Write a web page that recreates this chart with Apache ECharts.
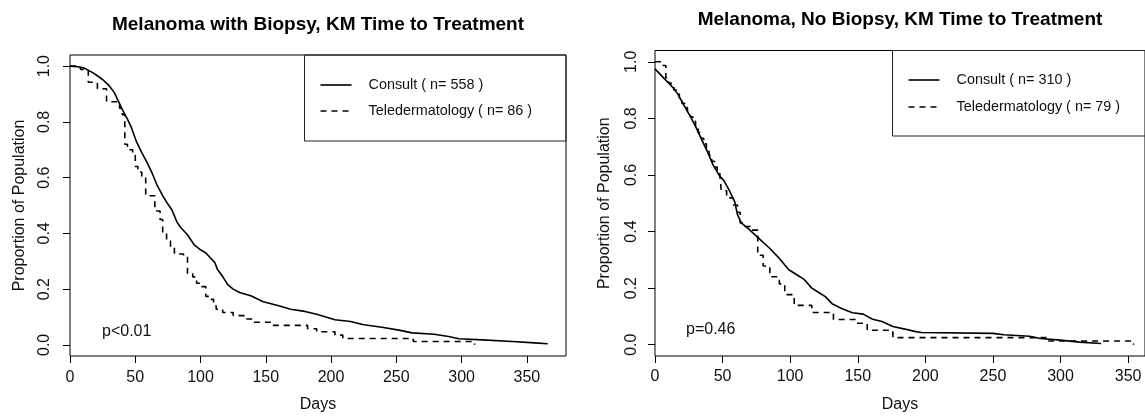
<!DOCTYPE html>
<html>
<head>
<meta charset="utf-8">
<script src="https://cdn.jsdelivr.net/npm/echarts@6/dist/echarts.min.js"></script>
<style>
html,body{margin:0;padding:0;background:#fff;}
#chart{width:1145px;height:418px;}
</style>
</head>
<body>
<div id="chart"></div>
<script>
// ---- data ----
const titles = ['Melanoma with Biopsy, KM Time to Treatment', 'Melanoma, No Biopsy, KM Time to Treatment'];
const xTicks = [0, 50, 100, 150, 200, 250, 300, 350];
const yTicks = [0, 0.2, 0.4, 0.6, 0.8, 1.0];
const xName = 'Days';
const yName = 'Proportion of Population';
const leftLegend = ['Consult ( n= 558 )', 'Teledermatology ( n= 86 )'];
const rightLegend = ['Consult ( n= 310 )', 'Teledermatology ( n= 79 )'];
const pTexts = ['p<0.01', 'p=0.46'];

const leftConsult = [[0,1],[6,0.998],[11,0.993],[18,0.975],[25,0.952],[30,0.93],[34,0.905],[40,0.845],[44,0.81],[47,0.78],[51,0.728],[55,0.69],[59,0.655],[63,0.615],[67,0.57],[71,0.535],[74,0.512],[78,0.485],[82,0.44],[85,0.42],[90,0.395],[95,0.36],[100,0.341],[104,0.33],[108,0.31],[111,0.295],[113,0.27],[117,0.245],[121,0.215],[125,0.2],[130,0.188],[139,0.175],[148,0.155],[160,0.14],[169,0.128],[180,0.12],[189,0.11],[196,0.1],[203,0.09],[215,0.084],[225,0.072],[239,0.063],[253,0.052],[262,0.043],[279,0.038],[290,0.03],[298,0.022],[316,0.018],[339,0.012],[356,0.007],[366,0.004]];
const leftTele = [[0,1],[8,0.988],[14,0.942],[21,0.919],[28,0.872],[38,0.849],[40,0.826],[42,0.72],[44,0.70],[48,0.686],[50,0.64],[52,0.62],[55,0.605],[58,0.535],[65,0.48],[69,0.45],[71,0.40],[74,0.372],[77,0.349],[80,0.326],[87,0.314],[90,0.256],[94,0.244],[97,0.221],[101,0.209],[104,0.174],[107,0.163],[110,0.14],[112,0.128],[117,0.116],[125,0.105],[135,0.093],[140,0.081],[155,0.070],[182,0.058],[189,0.047],[203,0.035],[209,0.023],[263,0.012],[310,0]];
const rightConsult = [[0,0.975],[3,0.96],[6,0.945],[10,0.925],[14,0.905],[17,0.885],[21,0.85],[26,0.808],[30,0.772],[34,0.73],[39,0.68],[43,0.635],[48,0.595],[51,0.58],[55,0.545],[59,0.505],[61,0.46],[64,0.43],[69,0.41],[77,0.375],[85,0.34],[92,0.305],[99,0.265],[104,0.25],[110,0.232],[116,0.2],[122,0.182],[126,0.17],[131,0.145],[138,0.128],[146,0.113],[154,0.108],[161,0.09],[168,0.082],[176,0.064],[184,0.056],[192,0.047],[197,0.043],[250,0.04],[258,0.035],[277,0.03],[285,0.022],[300,0.016],[314,0.009],[330,0.004]];
const rightTele = [[0,1],[6,0.987],[8,0.943],[10,0.925],[12,0.913],[14,0.9],[16,0.886],[18,0.87],[20,0.853],[22,0.838],[24,0.824],[26,0.806],[28,0.79],[30,0.77],[32,0.75],[34,0.73],[36,0.71],[38,0.69],[40,0.67],[42,0.648],[44,0.628],[46,0.612],[48,0.598],[49,0.544],[53,0.519],[58,0.494],[61,0.468],[63,0.43],[66,0.418],[71,0.405],[76,0.316],[80,0.278],[85,0.24],[92,0.215],[96,0.177],[103,0.139],[116,0.114],[132,0.089],[149,0.076],[157,0.051],[176,0.025],[290,0.013],[354,0]];

// ---- chart ----
const FONT = '"Liberation Sans", Arial, Helvetica, sans-serif';
const chart = echarts.init(document.getElementById('chart'), null, {renderer: 'canvas'});

function xAxisCfg(gi, max, margin, gap) {
  return {
    type: 'value', gridIndex: gi, min: 0, max: max,
    axisLine: {show: false, onZero: false},
    splitLine: {show: false},
    axisTick: {show: true, length: 7, inside: false, customValues: xTicks, lineStyle: {color: '#000', width: 1}},
    axisLabel: {customValues: xTicks, margin: margin, fontSize: 16, color: '#111', fontFamily: FONT},
    name: xName, nameLocation: 'middle', nameGap: gap,
    nameTextStyle: {fontSize: 16, color: '#111', fontFamily: FONT}
  };
}
function yAxisCfg(gi, margin, gap) {
  return {
    type: 'value', gridIndex: gi, min: -0.04, max: 1.04,
    axisLine: {show: false, onZero: false},
    splitLine: {show: false},
    axisTick: {show: true, length: 7, inside: false, customValues: yTicks, lineStyle: {color: '#000', width: 1}},
    axisLabel: {customValues: yTicks, rotate: 90, margin: margin, fontSize: 16, color: '#111', fontFamily: FONT,
      formatter: v => Number(v).toFixed(1)},
    name: yName, nameLocation: 'middle', nameRotate: 90, nameGap: gap,
    nameTextStyle: {fontSize: 16, color: '#111', fontFamily: FONT}
  };
}
function lineSeries(name, data, xi, dashed) {
  return {
    type: 'line', name: name, data: data, xAxisIndex: xi, yAxisIndex: xi,
    step: dashed ? 'end' : false, showSymbol: false, symbol: 'none', silent: true, animation: false,
    lineStyle: {color: '#000', width: 1.6, type: dashed ? [6, 5] : 'solid'}
  };
}
function legendGroup(x0, y0, x1, y1, rows, labels) {
  const els = [{type: 'rect', shape: {x: x0, y: y0, width: x1 - x0, height: y1 - y0},
    style: {fill: 'none', stroke: '#222', lineWidth: 1}}];
  labels.forEach((t, i) => {
    els.push({type: 'line', shape: {x1: x0 + 16, y1: rows[i], x2: x0 + 47, y2: rows[i]},
      style: {stroke: '#000', lineWidth: 1.6, lineDash: i === 1 ? [6, 5] : null}});
    els.push({type: 'text', x: x0 + 64, y: rows[i],
      style: {text: t, fill: '#111', font: '14.4px ' + FONT, textVerticalAlign: 'middle', verticalAlign: 'middle'}});
  });
  return els;
}

const option = {
  backgroundColor: '#fff',
  animation: false,
  grid: [
    {left: 70, top: 55, width: 496, height: 304, show: true, borderColor: '#000', borderWidth: 1, containLabel: false},
    {left: 655, top: 50.5, width: 492, height: 308, show: true, borderColor: '#000', borderWidth: 1, containLabel: false}
  ],
  xAxis: [xAxisCfg(0, 380, 14, 41), xAxisCfg(1, 362.5, 13, 41)],
  yAxis: [yAxisCfg(0, 17, 42), yAxisCfg(1, 15, 42)],
  series: [
    lineSeries(leftLegend[0], leftConsult, 0, false),
    lineSeries(leftLegend[1], leftTele, 0, true),
    lineSeries(rightLegend[0], rightConsult, 1, false),
    lineSeries(rightLegend[1], rightTele, 1, true)
  ],
  graphic: [
    {type: 'text', x: 318, y: 25, style: {text: titles[0], fill: '#000', font: 'bold 19px ' + FONT, textAlign: 'center', align: 'center', textVerticalAlign: 'middle', verticalAlign: 'middle'}},
    {type: 'text', x: 900, y: 20, style: {text: titles[1], fill: '#000', font: 'bold 19px ' + FONT, textAlign: 'center', align: 'center', textVerticalAlign: 'middle', verticalAlign: 'middle'}},
    {type: 'text', x: 102, y: 332, style: {text: pTexts[0], fill: '#111', font: '16px ' + FONT, textVerticalAlign: 'middle', verticalAlign: 'middle'}},
    {type: 'text', x: 686, y: 330, style: {text: pTexts[1], fill: '#111', font: '16px ' + FONT, textVerticalAlign: 'middle', verticalAlign: 'middle'}}
  ].concat(legendGroup(304.5, 55, 566, 141, [85, 111], leftLegend))
   .concat(legendGroup(892.5, 50.5, 1150, 136, [80, 107], rightLegend))
};
chart.setOption(option);
</script>
</body>
</html>
